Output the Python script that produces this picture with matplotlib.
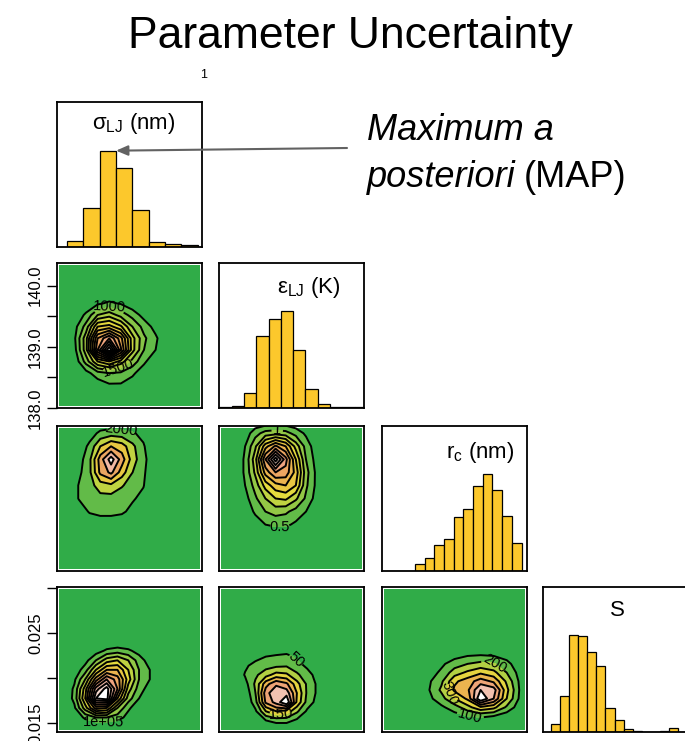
import numpy as np
import matplotlib
matplotlib.use('Agg')
import matplotlib.pyplot as plt
from matplotlib.colors import LinearSegmentedColormap
from matplotlib.patches import Rectangle

plt.rcParams['font.family'] = ['Liberation Sans', 'DejaVu Sans']
plt.rcParams['mathtext.fontset'] = 'custom'
plt.rcParams['mathtext.rm'] = 'Liberation Sans'
plt.rcParams['mathtext.it'] = 'Liberation Sans:italic'
plt.rcParams['mathtext.default'] = 'regular'

# marginal histograms, bin counts left to right
sigma_counts = [17, 117, 287, 234, 109, 15, 8, 6]
eps_counts = [3, 5, 45, 215, 267, 290, 175, 58, 13, 2, 2, 3]
rc_counts = [0, 0, 0, 22, 40, 77, 95, 160, 185, 252, 288, 240, 162, 82]
s_counts = [25, 107, 287, 285, 237, 195, 70, 35, 10, 2, 0, 0, 2, 13, 1]
hist_titles = [r'$\sigma_{LJ}$ (nm)', r'$ε_{LJ}$ (K)', r'$r_c$ (nm)', 'S']

# pair densities: rows listed top to bottom, with x/y span of the grid
dens_sig_eps = [
    [0, 100, 400, 600, 450, 150, 0, 0],
    [100, 600, 1500, 1800, 1300, 800, 300, 0],
    [300, 1200, 3000, 3200, 2600, 1500, 800, 300],
    [400, 1800, 4500, 5500, 4200, 2200, 1100, 600],
    [300, 1800, 5000, 7500, 4600, 2200, 1000, 500],
    [100, 1200, 2500, 3000, 2300, 1300, 600, 100],
    [0, 300, 800, 1000, 900, 600, 200, 0],
    [0, 0, 200, 450, 450, 250, 0, 0],
]
span_sig_eps = ((0.12, 0.68), (138.38, 139.71))

dens_sig_rc = [
    [0, 1000, 2500, 3000, 2800, 2200, 1500, 0],
    [500, 2500, 6000, 8000, 7000, 4500, 2200, 500],
    [1000, 3500, 9000, 13000, 9000, 5000, 2500, 800],
    [1500, 3500, 8500, 10500, 7000, 4000, 2300, 600],
    [2100, 3200, 5000, 5500, 4200, 3000, 2100, 300],
    [2100, 2800, 3300, 3200, 2800, 2200, 1500, 0],
    [800, 2200, 2500, 2500, 2300, 1500, 500, 0],
    [0, 500, 1000, 1000, 800, 200, 0, 0],
]
span_sig_rc = ((0.15, 0.67), (0.32, 0.95))

dens_eps_rc = [
    [0.2, 0.8, 1.2, 1.3, 1.2, 0.8, 0.4, 0],
    [0.5, 1.4, 2.8, 3.6, 3.0, 1.8, 0.8, 0.2],
    [0.6, 1.8, 4.0, 5.8, 4.2, 2.5, 1.0, 0.3],
    [0.6, 1.6, 3.2, 4.0, 3.8, 2.8, 1.2, 0.4],
    [0.5, 1.2, 2.2, 2.8, 3.0, 2.5, 1.1, 0.4],
    [0.3, 0.9, 1.5, 2.0, 2.1, 1.6, 0.9, 0.3],
    [0.1, 0.6, 1.0, 1.2, 1.1, 0.8, 0.5, 0.1],
    [0, 0.2, 0.5, 0.6, 0.6, 0.4, 0.1, 0],
]
span_eps_rc = ((0.18, 0.67), (0.32, 0.95))

# counts in units of 1e5
dens_sig_s = [
    [0, 0, 0.5, 1.2, 1.5, 1.2, 0.6, 0],
    [0, 0.6, 2.0, 3.5, 4.0, 3.0, 1.5, 0.5],
    [0.3, 1.5, 4.0, 6.0, 6.0, 4.0, 2.0, 1.0],
    [0.8, 3.0, 6.5, 9.0, 7.5, 4.5, 2.0, 1.0],
    [1.2, 4.5, 9.5, 11.5, 8.0, 3.5, 1.5, 0.5],
    [1.3, 5.0, 11.0, 11.5, 6.0, 2.5, 1.0, 0.2],
    [0.8, 3.5, 6.5, 6.0, 3.0, 1.2, 0.3, 0],
    [0.2, 1.2, 2.0, 2.0, 1.5, 0.6, 0, 0],
]
span_sig_s = ((0.12, 0.64), (0.01561, 0.02302))

dens_eps_s = [
    [0, 30, 50, 60, 70, 40, 10, 0],
    [40, 70, 80, 90, 95, 70, 40, 10],
    [55, 90, 130, 170, 160, 110, 70, 30],
    [30, 110, 230, 290, 260, 170, 90, 40],
    [10, 100, 280, 340, 330, 200, 90, 40],
    [0, 80, 260, 320, 400, 190, 80, 30],
    [0, 40, 150, 200, 180, 110, 40, 10],
    [0, 10, 50, 70, 70, 40, 10, 0],
]
span_eps_s = ((0.18, 0.68), (0.01529, 0.02237))

dens_rc_s = [
    [0, 20, 60, 90, 100, 90, 60, 10],
    [20, 80, 150, 200, 230, 210, 130, 40],
    [50, 120, 250, 320, 380, 330, 200, 60],
    [80, 180, 380, 450, 550, 480, 280, 80],
    [90, 220, 420, 480, 700, 650, 330, 90],
    [70, 160, 300, 420, 800, 600, 300, 80],
    [30, 80, 150, 260, 380, 330, 180, 40],
    [0, 20, 60, 100, 120, 100, 40, 0],
]
span_rc_s = ((0.32, 0.95), (0.01577, 0.02253))

eps_ticks = [138.0, 138.5, 139.0, 139.5, 140.0]
eps_ticklabels = ['138.0', '', '139.0', '', '140.0']
s_ticks = [0.015, 0.020, 0.025, 0.030]
s_ticklabels = ['0.015', '', '0.025', '']

W, H = 685, 741
fig = plt.figure(figsize=(W / 100, H / 100), dpi=100)

col_x = [57, 219, 382, 543]
row_y = [102, 263, 426, 587]
side = 145

GREEN = '#30ac48'
BAR = '#fcc82c'
terrain = LinearSegmentedColormap.from_list(
    'terr', ['#62bb48', '#a9cd44', '#e3dc3c', '#eac244', '#eca75a',
             '#eea384', '#f2c6b8', '#ffffff'])


def panel(r, c):
    ax = fig.add_axes([col_x[c] / W, 1 - (row_y[r] + side) / H, side / W, side / H])
    for sp in ax.spines.values():
        sp.set_linewidth(1.3)
    ax.set_xticks([])
    ax.set_yticks([])
    return ax


def histogram(ax, counts, xlim, ylim_top, title, tx, ty):
    ax.bar(np.arange(len(counts)), counts, width=1, align='edge',
           color=BAR, edgecolor='black', linewidth=0.9)
    ax.set_xlim(*xlim)
    ax.set_ylim(0, ylim_top)
    ax.text(tx, ty, title, transform=ax.transAxes, fontsize=16,
            ha='center', va='center')


def density(ax, grid, span, levels, label_at, fmt, ylim, scale=1.0):
    z = np.array(grid, float) * scale
    nr, nc = z.shape
    z = np.pad(np.flipud(z), 1)
    (x0, x1), (y0, y1) = span
    dx = (x1 - x0) / (nc - 1)
    dy = (y1 - y0) / (nr - 1)
    x = np.linspace(x0 - dx, x1 + dx, nc + 2)
    y = np.linspace(y0 - dy, y1 + dy, nr + 2)
    ax.set_facecolor('white')
    ax.add_patch(Rectangle((0.014, 0.014), 0.972, 0.972, transform=ax.transAxes,
                           facecolor=GREEN, edgecolor='none', zorder=0))
    bounds = list(levels) + [z.max() * 1.01]
    cols = terrain(np.linspace(0, 1, len(levels)))
    ax.contourf(x, y, z, levels=bounds, colors=cols, zorder=1)

    # labelled levels get their own contour set so the inline gap stays open
    lab_levels = sorted(label_at)
    plain = [lv for lv in levels if not np.any(np.isclose(lv, lab_levels))]
    ax.contour(x, y, z, levels=plain, colors='black', linewidths=1.4, zorder=2)
    cs = ax.contour(x, y, z, levels=lab_levels, colors='black', linewidths=1.4, zorder=2)
    ax.clabel(cs, fmt=fmt, fontsize=10.5, inline=True,
              manual=[label_at[lv] for lv in lab_levels])
    ax.set_xlim(0, 1)
    ax.set_ylim(*ylim)


# diagonal: marginal histograms
histogram(panel(0, 0), sigma_counts, (-0.62, 8.27), 432, hist_titles[0], 0.53, 0.855)
histogram(panel(1, 1), eps_counts, (-0.02, 11.75), 435, hist_titles[1], 0.62, 0.83)
histogram(panel(2, 2), rc_counts, (-0.39, 14.56), 430, hist_titles[2], 0.68, 0.82)
histogram(panel(3, 3), s_counts, (-0.88, 15.1), 430, hist_titles[3], 0.51, 0.84)

eps_lim = (138.0, 140.37)
s_lim = (0.014, 0.0301)
unit_lim = (0, 1)

ax = panel(1, 0)
density(ax, dens_sig_eps, span_sig_eps, np.arange(500, 7001, 500),
        {1000: (0.36, 139.68), 1500: (0.42, 138.68)}, '%d', eps_lim)
ax.set_yticks(eps_ticks, eps_ticklabels, rotation=90, va='center', fontsize=12)
ax.tick_params(axis='y', length=7, width=1, pad=3)

density(panel(2, 0), dens_sig_rc, span_sig_rc, np.arange(2000, 12001, 2000),
        {2000: (0.44, 0.94)}, '%d', unit_lim)
density(panel(2, 1), dens_eps_rc, span_eps_rc, np.arange(0.5, 5.51, 0.5),
        {1.0: (0.40, 0.94), 0.5: (0.42, 0.32)}, '%g', unit_lim)

ax = panel(3, 0)
density(ax, dens_sig_s, span_sig_s, np.arange(1, 11.5, 1) * 1e5,
        {1e5: (0.32, 0.0159)}, lambda v: '%.0e' % v, s_lim, scale=1e5)
ax.set_yticks(s_ticks, s_ticklabels, rotation=90, va='center', fontsize=12)
ax.tick_params(axis='y', length=7, width=1, pad=3)

density(panel(3, 1), dens_eps_s, span_eps_s, np.arange(50, 351, 50),
        {50: (0.50, 0.0216), 150: (0.42, 0.0164)}, '%d', s_lim)
density(panel(3, 2), dens_rc_s, span_rc_s, np.arange(100, 701, 100),
        {200: (0.78, 0.0216), 300: (0.50, 0.0186), 100: (0.60, 0.0153)}, '%d', s_lim)

# MAP arrow pointing at the top of the tallest sigma bar
ax0 = fig.axes[0]
peak = int(np.argmax(sigma_counts))
ax0.annotate('', xy=(peak + 1, sigma_counts[peak]), xytext=(347 / W, 1 - 148 / H),
             textcoords='figure fraction', annotation_clip=False,
             arrowprops=dict(arrowstyle='-|>,head_length=0.7,head_width=0.3',
                             color='#626262', lw=1.5, shrinkA=0, shrinkB=0))

fig.text(0.511, 1 - 48 / H, 'Parameter Uncertainty', fontsize=32, ha='center', va='baseline')
fig.text(204 / W, 1 - 75 / H, '1', fontsize=9, ha='center', va='center')
fig.text(367 / W, 1 - 140 / H, 'Maximum a', fontsize=26, style='italic', va='baseline')
t = fig.text(367 / W, 1 - 187 / H, 'posteriori', fontsize=26, style='italic', va='baseline')
fig.canvas.draw()
bb = t.get_window_extent()
fig.text((bb.x1 + 8) / W, 1 - 187 / H, '(MAP)', fontsize=26, va='baseline')

fig.savefig('out.png', dpi=100)
